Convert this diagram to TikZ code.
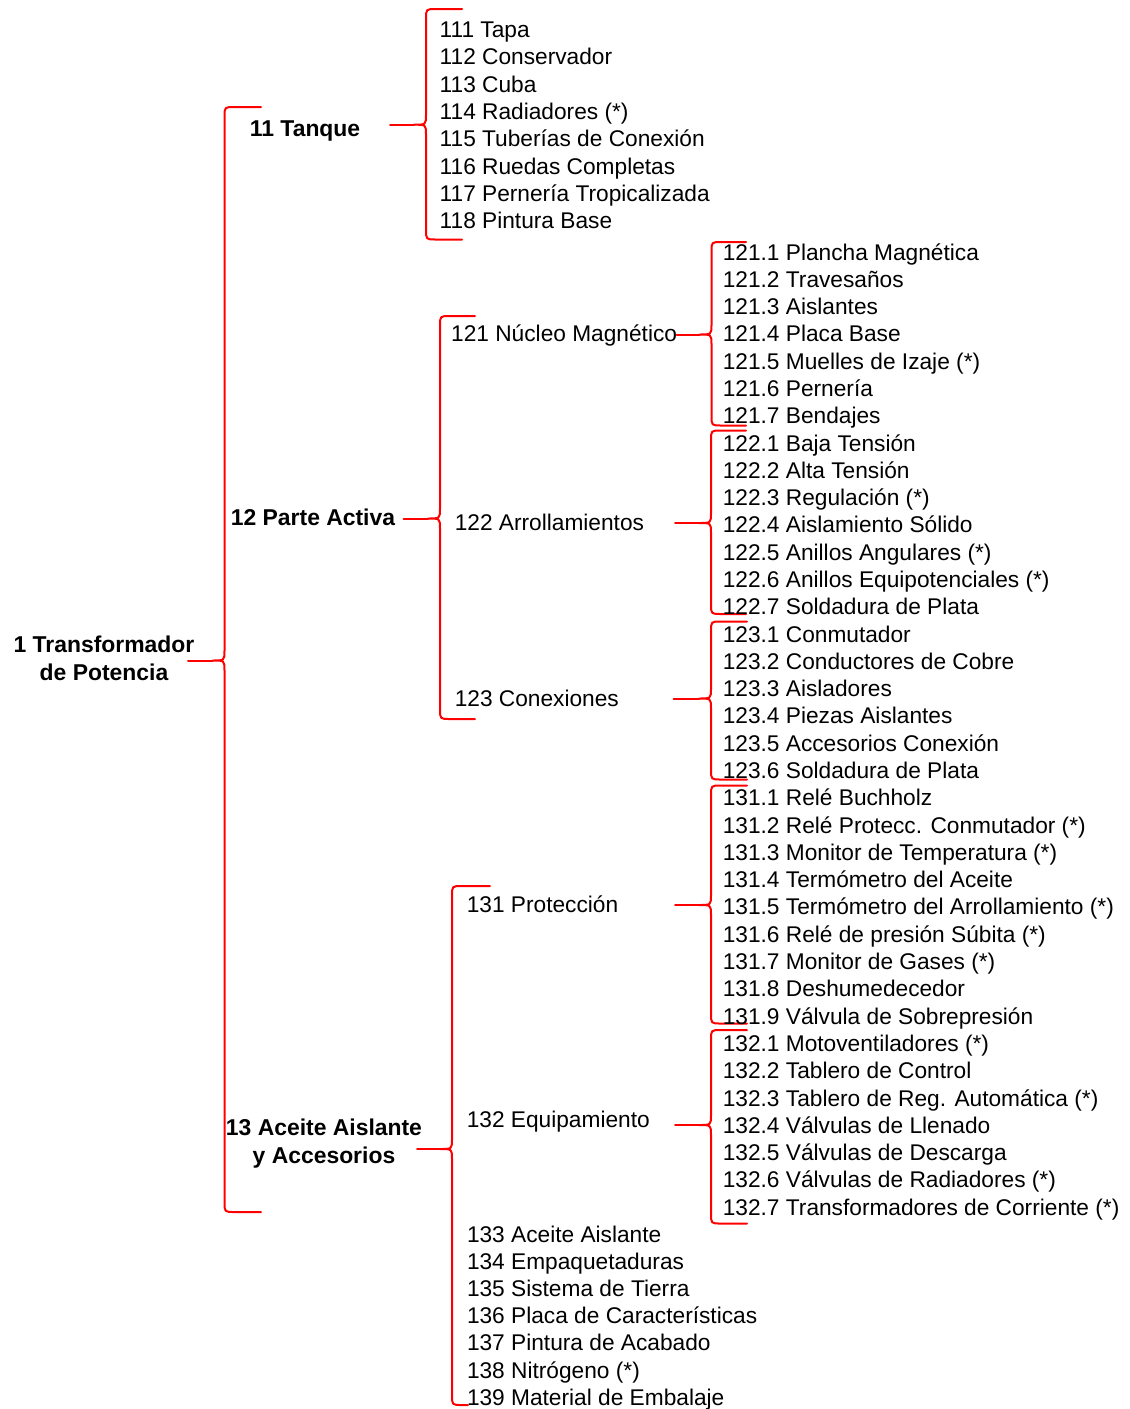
\documentclass[tikz,border=0pt]{standalone}
\usepackage{fontspec}
\setmainfont{Liberation Sans}

% Red curly bracket: name, spine x, top y, bottom y, tip x, tip y, top hook end x, bottom hook end x
\newcommand{\curly}[8]{%
  \coordinate (#1-tip) at (#5,#6);
  \coordinate (#1-top) at (#7,#3);
  \coordinate (#1-bot) at (#8,#4);
  \draw[bracket] (#1-top) -- (#2+10,#3) .. controls (#2,#3) .. (#2,#3+10)
    -- (#2,#6-10) .. controls (#2,#6) .. (#2-12,#6)
    .. controls (#2,#6) .. (#2,#6+10)
    -- (#2,#4-10) .. controls (#2,#4) .. (#2+10,#4) -- (#1-bot);
  \draw[bracket] (#2-12,#6) -- (#1-tip);
}

\begin{document}
\begin{tikzpicture}[x=1pt,y=-1pt,
  item/.style={anchor=base west, inner sep=0pt, text=black,
    font=\fontsize{22.7}{27.3}\selectfont},
  head/.style={anchor=base west, inner sep=0pt, text=black,
    font=\bfseries\fontsize{22.9}{27.6}\selectfont},
  headc/.style={head, anchor=base, align=center},
  bracket/.style={draw=red, line width=2pt, line join=round, line cap=round}]

\useasboundingbox[fill=white] (0,0) rectangle (1130,1409);

% top level (multi-line labels sit on the baseline of their last line)
\node[headc] (n1) at (104,680) {1 Transformador\\de Potencia};
\curly{b1}{224.5}{107}{1212}{188}{660.5}{261}{261}

% second level
\node[head] (n11) at (249.7,136.5) {11 Tanque};
\node[head] (n12) at (230.7,525) {12 Parte Activa};
\node[headc] (n13) at (324,1163.3) {13 Aceite Aislante\\y Accesorios};

\curly{b11}{426}{9}{239.5}{390}{124.7}{462}{462}
\curly{b12}{440}{316}{719}{403.5}{518.5}{475}{475}
\curly{b13}{452}{886}{1405}{417}{1149}{490}{468}

% parts of the tank
\foreach \t [count=\i] in {{111 Tapa},{112 Conservador},{113 Cuba},
  {114 Radiadores (*)},{115 Tuberías de Conexión},{116 Ruedas Completas},
  {117 Pernería Tropicalizada},{118 Pintura Base}}
  \node[item] (t\i) at (439.5,37.5+27.3*\i-27.3) {\t};

% third level
\node[item] (n121) at (451,341.5) {121 Núcleo Magnético};
\node[item] (n122) at (454.6,530) {122 Arrollamientos};
\node[item] (n123) at (454.6,706) {123 Conexiones};
\node[item] (n131) at (466.6,912) {131 Protección};
\node[item] (n132) at (466.6,1127) {132 Equipamiento};

\foreach \t [count=\i] in {{133 Aceite Aislante},{134 Empaquetaduras},
  {135 Sistema de Tierra},{136 Placa de Características},
  {137 Pintura de Acabado},{138 Nitrógeno (*)},{139 Material de Embalaje}}
  \node[item] (a\i) at (466.8,1242+27.2*\i-27.2) {\t};

\curly{b121}{711.5}{242}{425.5}{676.5}{334.5}{746}{746}
\curly{b122}{711}{430.5}{614}{675}{523}{746}{746}
\curly{b123}{711}{621.5}{779.5}{673.5}{698.5}{747}{747}
\curly{b131}{711}{785.5}{1023.5}{675}{905}{747}{747}
\curly{b132}{711}{1030}{1223.5}{675}{1125}{747}{747}

% fourth level
\foreach \t [count=\i] in {
  {121.1 Plancha Magnética},{121.2 Travesaños},{121.3 Aislantes},
  {121.4 Placa Base},{121.5 Muelles de Izaje (*)},{121.6 Pernería},
  {121.7 Bendajes},
  {122.1 Baja Tensión},{122.2 Alta Tensión},{122.3 Regulación (*)},
  {122.4 Aislamiento Sólido},{122.5 Anillos Angulares (*)},
  {122.6 Anillos Equipotenciales (*)},{122.7 Soldadura de Plata},
  {123.1 Conmutador},{123.2 Conductores de Cobre},{123.3 Aisladores},
  {123.4 Piezas Aislantes},{123.5 Accesorios Conexión},
  {123.6 Soldadura de Plata},
  {131.1 Relé Buchholz},{131.2 Relé Protecc. Conmutador (*)},
  {131.3 Monitor de Temperatura (*)},{131.4 Termómetro del Aceite},
  {131.5 Termómetro del Arrollamiento (*)},
  {131.6 Relé de presión Súbita (*)},{131.7 Monitor de Gases (*)},
  {131.8 Deshumedecedor},{131.9 Válvula de Sobrepresión},
  {132.1 Motoventiladores (*)},{132.2 Tablero de Control},
  {132.3 Tablero de Reg. Automática (*)},{132.4 Válvulas de Llenado},
  {132.5 Válvulas de Descarga},{132.6 Válvulas de Radiadores (*)},
  {132.7 Transformadores de Corriente (*)}}
  \node[item] (r\i) at (722.6,260+27.29*\i-27.29) {\t};

\end{tikzpicture}
\end{document}
